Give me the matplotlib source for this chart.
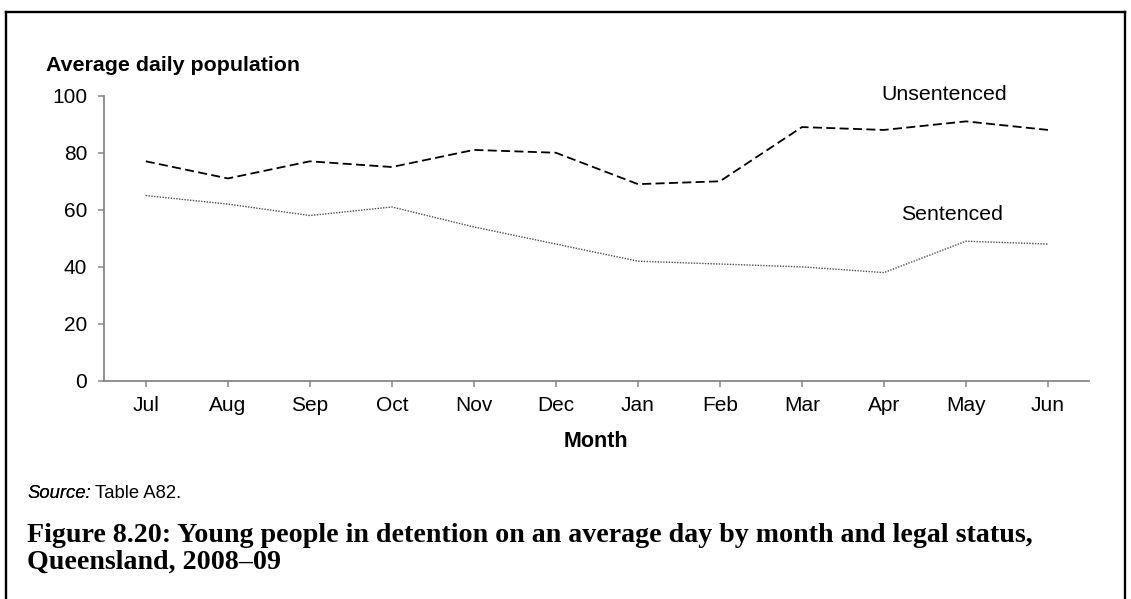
import matplotlib
matplotlib.use("Agg")
import matplotlib.pyplot as plt
from matplotlib.lines import Line2D

months = ["Jul", "Aug", "Sep", "Oct", "Nov", "Dec", "Jan", "Feb", "Mar", "Apr", "May", "Jun"]
unsentenced = [77, 71, 77, 75, 81, 80, 69, 70, 89, 88, 91, 88]
sentenced = [65, 62, 58, 61, 54, 48, 42, 41, 40, 38, 49, 48]
yticks = [0, 20, 40, 60, 80, 100]

plt.rcParams['font.family'] = ['Liberation Sans', 'DejaVu Sans']

W, H = 1131, 599
fig = plt.figure(figsize=(W / 100, H / 100), dpi=100)

def fx(px):
    return px / W

def fy(py):
    return 1 - py / H

# axes: x from -0.51 to 11.5 at 82 px per month, y 0..100 from 381 to 95.7
ax = fig.add_axes([fx(104), fy(381), fx(1089) - fx(104), fy(95.7) - fy(381)])
x = list(range(len(months)))
ax.plot(x, unsentenced, color="black", linewidth=1.3, linestyle=(0, (5, 2.4)))
ax.plot(x, sentenced, color="#4d4d4d", linewidth=1.0, linestyle=(0, (1, 1)))

ax.set_xlim(-0.51, 11.5)
ax.set_ylim(0, 100)
ax.set_yticks(yticks)
ax.set_xticks(x)
ax.set_xticklabels(months)
for s in ["top", "right"]:
    ax.spines[s].set_visible(False)
for s in ["left", "bottom"]:
    ax.spines[s].set_color("#868686")
    ax.spines[s].set_linewidth(1.3)
ax.tick_params(axis="both", colors="#868686", labelcolor="black", labelsize=15,
               length=4.5, width=1.1, direction="out")
ax.tick_params(axis="x", pad=6)
ax.tick_params(axis="y", pad=7.5)

fig.text(fx(595.5), fy(447), "Month", fontsize=15.5, fontweight="bold", ha="center", va="baseline")

ax.text(9.73, 100.3, "Unsentenced", fontsize=15.3, ha="center", va="center")
ax.text(9.83, 58.2, "Sentenced", fontsize=15.3, ha="center", va="center")

fig.text(fx(46), fy(71), "Average daily population", fontsize=15.4, fontweight="bold",
         ha="left", va="baseline")

t1 = fig.text(fx(27), fy(498), "Source:", fontsize=13.3, style="italic", ha="left", va="baseline")
fig.add_artist(t1)
ann = plt.annotate("Table A82.", xy=(1, 0), xycoords=t1, xytext=(3.5, 0), textcoords="offset points",
                   fontsize=13.3, ha="left", va="bottom", annotation_clip=False)

serif = ["Liberation Serif", "DejaVu Serif"]
fig.text(fx(27), fy(542), "Figure 8.20: Young people in detention on an average day by month and legal status,",
         fontsize=20.2, fontweight="bold", family=serif, ha="left", va="baseline")
fig.text(fx(27), fy(569), "Queensland, 2008\u201309",
         fontsize=20.2, fontweight="bold", family=serif, ha="left", va="baseline")

# frame around the figure (left, top, right)
bx0, bx1, by0 = 6, 1125, 12
kw = dict(color="black", linewidth=1.7, transform=fig.transFigure, solid_capstyle="projecting")
fig.add_artist(Line2D([fx(bx0), fx(bx0)], [0, fy(by0)], **kw))
fig.add_artist(Line2D([fx(bx0), fx(bx1)], [fy(by0), fy(by0)], **kw))
fig.add_artist(Line2D([fx(bx1), fx(bx1)], [0, fy(by0)], **kw))

fig.savefig("out.png", dpi=100)
